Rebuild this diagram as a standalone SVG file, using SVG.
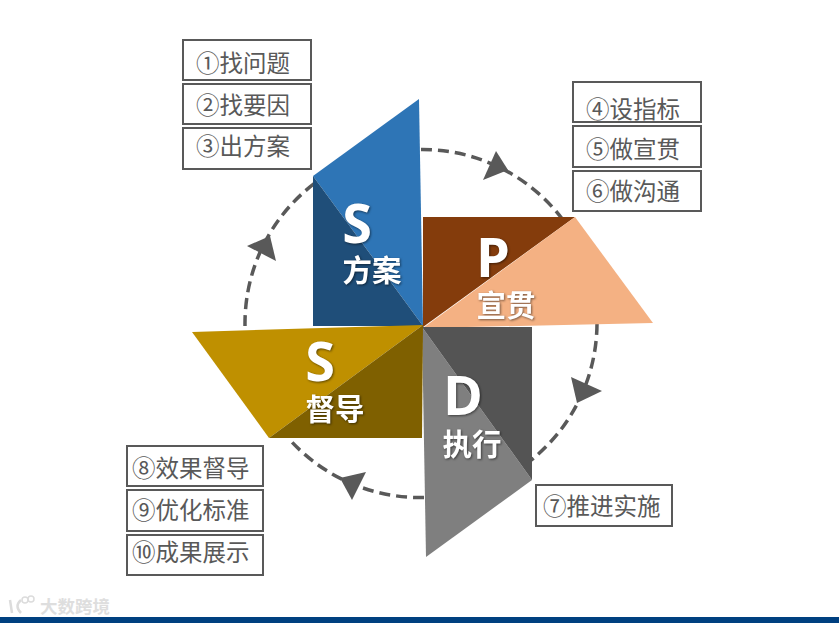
<svg xmlns="http://www.w3.org/2000/svg" width="839" height="623" viewBox="0 0 839 623">
<style>
.box{fill:#fff;stroke:#595959;stroke-width:2}
.t{font-family:"Noto Sans CJK SC","Liberation Sans",sans-serif;font-size:23.500px;fill:#595959;font-weight:400}
.arc{fill:none;stroke:#595959;stroke-width:3.500;stroke-dasharray:11 6}
.head{fill:#595959}
.big{font-family:"Open Sans","Noto Sans",sans-serif;font-weight:700;font-size:54px;fill:#fff;text-anchor:middle;filter:drop-shadow(1px 1.5px 1px rgba(0,0,0,.5))}
.sub{font-family:"Noto Sans CJK SC",sans-serif;font-weight:700;font-size:29.500px;fill:#fff;text-anchor:middle;filter:drop-shadow(1px 1.5px 1px rgba(0,0,0,.5))}
</style>
<rect width="839" height="623" fill="#fff"/>
<g id="connectors">
<path class="arc" d="M421 149.500A176 176 0 0 1 566 224"/>
<path class="arc" d="M597 324A176 176 0 0 1 530 461"/>
<path class="arc" d="M424 497.500A176 176 0 0 1 290 440"/>
<path class="arc" d="M245 326A176 176 0 0 1 315 183"/>
<polygon class="head" points="496,151 483,180 508,170"/>
<polygon class="head" points="571,377 602,391 577,403"/>
<polygon class="head" points="366,472 340,478 352,500"/>
<polygon class="head" points="247,246 270,236 276,261"/>
</g>
<g id="node-s-plan">
<polygon fill="#2e75b6" points="313,176 419,99 423,326"/>
<polygon fill="#1f4e79" points="313,176 423,326 313,326"/>
<text class="big" x="357" y="243">S</text>
<text class="sub" x="372" y="281">方案</text>
</g>
<g id="node-p">
<polygon fill="#843c0c" points="423,217 575,217 423,327"/>
<polygon fill="#f4b183" points="575,217 653,323 423,328"/>
<text class="big" x="493" y="277">P</text>
<text class="sub" x="506" y="316">宣贯</text>
</g>
<g id="node-d">
<polygon fill="#7f7f7f" points="422,327 532,480 426,557"/>
<polygon fill="#545454" points="422,327 532,327 532,480"/>
<text class="big" x="463" y="415">D</text>
<text class="sub" x="472" y="455">执行</text>
</g>
<g id="node-s-supervise">
<polygon fill="#bf9000" points="192,332 423,325 269,438"/>
<polygon fill="#7f6000" points="423,325 422,438 269,438"/>
<text class="big" x="320" y="381">S</text>
<text class="sub" x="335" y="420">督导</text>
</g>
<g id="node-list-1"><rect class="box" x="183" y="40" width="128" height="40"/><text class="t" x="196" y="72">①找问题</text></g>
<g id="node-list-2"><rect class="box" x="183" y="84" width="128" height="40"/><text class="t" x="196" y="114">②找要因</text></g>
<g id="node-list-3"><rect class="box" x="183" y="128" width="128" height="41"/><text class="t" x="196" y="155">③出方案</text></g>
<g id="node-list-4"><rect class="box" x="573" y="82" width="128" height="40"/><text class="t" x="586" y="118">④设指标</text></g>
<g id="node-list-5"><rect class="box" x="573" y="126" width="128" height="41"/><text class="t" x="586" y="158">⑤做宣贯</text></g>
<g id="node-list-6"><rect class="box" x="573" y="171" width="128" height="40"/><text class="t" x="586" y="200">⑥做沟通</text></g>
<g id="node-list-7"><rect class="box" x="536" y="485" width="136" height="41"/><text class="t" x="543" y="515">⑦推进实施</text></g>
<g id="node-list-8"><rect class="box" x="127" y="446" width="136" height="40"/><text class="t" x="132" y="477">⑧效果督导</text></g>
<g id="node-list-9"><rect class="box" x="127" y="490" width="136" height="41"/><text class="t" x="132" y="519">⑨优化标准</text></g>
<g id="node-list-10"><rect class="box" x="127" y="535" width="136" height="40"/><text class="t" x="132" y="561">⑩成果展示</text></g>
<rect x="0" y="617" width="839" height="6" fill="#004080"/>
<g id="watermark">
<path d="M10 600L12 613M21 600Q14 606 21 613" fill="none" stroke="#dcdcdc" stroke-width="2.500"/>
<circle cx="25" cy="600" r="3" fill="none" stroke="#dcdcdc" stroke-width="1.500"/>
<circle cx="31" cy="599" r="3" fill="none" stroke="#dcdcdc" stroke-width="1.500"/>
<text x="40" y="613" font-family="Noto Sans CJK SC,sans-serif" font-size="17.500" font-weight="700" fill="#dedede">大数跨境</text>
</g>
</svg>
